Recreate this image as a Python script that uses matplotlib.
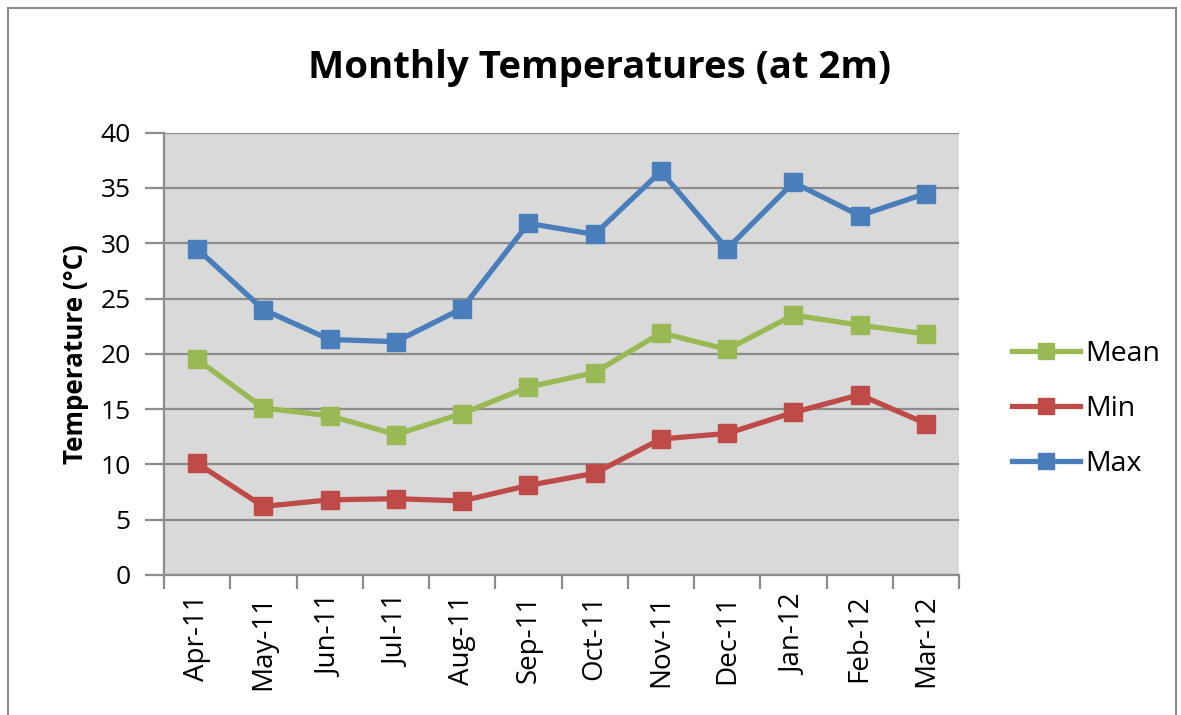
import matplotlib
matplotlib.use("Agg")
import matplotlib.pyplot as plt
from matplotlib.patches import Rectangle
import numpy as np

months = ["Apr-11", "May-11", "Jun-11", "Jul-11", "Aug-11", "Sep-11",
          "Oct-11", "Nov-11", "Dec-11", "Jan-12", "Feb-12", "Mar-12"]
mean_t = [19.5, 15.1, 14.4, 12.7, 14.6, 17.0, 18.3, 21.9, 20.4, 23.5, 22.6, 21.8]
min_t = [10.1, 6.2, 6.8, 6.9, 6.7, 8.1, 9.2, 12.3, 12.8, 14.7, 16.3, 13.7]
max_t = [29.5, 24.0, 21.3, 21.1, 24.1, 31.8, 30.8, 36.5, 29.5, 35.5, 32.5, 34.5]
yticks = [0, 5, 10, 15, 20, 25, 30, 35, 40]

c_mean = "#98B954"
c_min = "#BE4B48"
c_max = "#4A7EBB"
FONT = ["Open Sans", "DejaVu Sans"]

fig = plt.figure(figsize=(11.81, 7.15), dpi=100)
fig.patch.set_facecolor("white")
# outer chart frame
fig.patches.append(Rectangle((8 / 1181, -0.1), (1176 - 8) / 1181, 1.1 - 8 / 715,
                             transform=fig.transFigure, fill=False,
                             edgecolor="#8C8C8C", linewidth=1.5))

ax = fig.add_axes([164 / 1181, (715 - 575) / 715, (959 - 164) / 1181, (575 - 132.7) / 715])
ax.set_facecolor("#D9D9D9")

x = np.arange(len(months))
kw = dict(marker="s", markersize=13, linewidth=3.8, solid_joinstyle="round")
ax.plot(x, max_t, color=c_max, label="Max", **kw)
ax.plot(x, min_t, color=c_min, label="Min", **kw)
ax.plot(x, mean_t, color=c_mean, label="Mean", **kw)

ax.set_xlim(-0.5, len(months) - 0.5)
ax.set_ylim(0, 40)
ax.set_yticks(yticks)
ax.yaxis.grid(True, color="#8C8C8C", linewidth=1.6)
ax.set_axisbelow(True)
for s in ["top", "right"]:
    ax.spines[s].set_visible(False)
for s in ["left", "bottom"]:
    ax.spines[s].set_color("#8C8C8C")
    ax.spines[s].set_linewidth(1.6)

ax.set_xticks(x)
ax.set_xticklabels(months, rotation=90, fontsize=20, family=FONT)
ax.set_xticks(np.arange(-0.5, len(months) + 0.5, 1), minor=True)
ax.tick_params(axis="x", which="major", length=0, pad=14)
ax.tick_params(axis="x", which="minor", length=10, width=1.6, color="#8C8C8C")
ax.tick_params(axis="y", length=14, width=1.6, color="#8C8C8C", labelsize=19, pad=10)
for lab in ax.get_yticklabels():
    lab.set_family(FONT)

ax.set_ylabel("Temperature (°C)", fontsize=18.7, fontweight="bold",
              family=FONT, labelpad=8)

fig.text(600 / 1181, 1 - 68 / 715, "Monthly Temperatures (at 2m)", ha="center", va="center",
         fontsize=27.6, fontweight="bold", family=FONT)

handles, labels = ax.get_legend_handles_labels()
order = [2, 1, 0]
leg = fig.legend([handles[i] for i in order], [labels[i] for i in order],
                 loc="center left", bbox_to_anchor=(986 / 1181, 1 - 409 / 715),
                 frameon=False, handlelength=2.4, labelspacing=0.95,
                 handletextpad=0.2, prop={"family": "Open Sans", "size": 20.5})
for h in leg.legend_handles:
    h.set_markersize(11)

fig.savefig("out.png", dpi=100)
